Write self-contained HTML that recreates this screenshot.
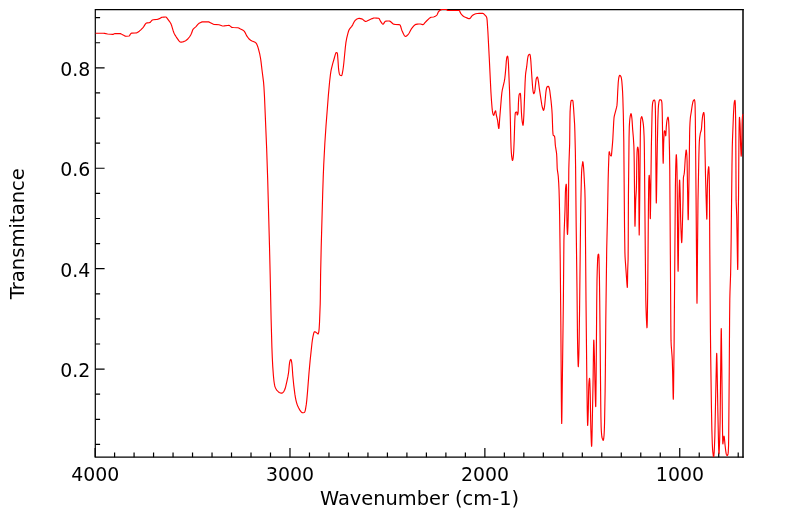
<!DOCTYPE html>
<html><head><meta charset="utf-8"><title>IR Spectrum</title>
<style>html,body{margin:0;padding:0;background:#fff}</style></head>
<body>
<svg width="799" height="516" viewBox="0 0 799 516" style="display:block">
<rect x="0" y="0" width="799" height="516" fill="#fff"/>
<path d="M95.10,457.2v-9.3 M114.59,457.2v-4.8 M134.08,457.2v-4.8 M153.56,457.2v-4.8 M173.05,457.2v-4.8 M192.54,457.2v-4.8 M212.03,457.2v-4.8 M231.52,457.2v-4.8 M251.01,457.2v-4.8 M270.50,457.2v-4.8 M289.98,457.2v-9.3 M309.47,457.2v-4.8 M328.96,457.2v-4.8 M348.45,457.2v-4.8 M367.94,457.2v-4.8 M387.42,457.2v-4.8 M406.91,457.2v-4.8 M426.40,457.2v-4.8 M445.89,457.2v-4.8 M465.38,457.2v-4.8 M484.87,457.2v-9.3 M504.36,457.2v-4.8 M523.84,457.2v-4.8 M543.33,457.2v-4.8 M562.82,457.2v-4.8 M582.31,457.2v-4.8 M601.80,457.2v-4.8 M621.28,457.2v-4.8 M640.77,457.2v-4.8 M660.26,457.2v-4.8 M679.75,457.2v-9.3 M699.24,457.2v-4.8 M718.73,457.2v-4.8 M738.22,457.2v-4.8 M95.3,444.43h4.8 M95.3,419.32h4.8 M95.3,394.22h4.8 M95.3,369.11h9.3 M95.3,344.00h4.8 M95.3,318.90h4.8 M95.3,293.80h4.8 M95.3,268.69h9.3 M95.3,243.59h4.8 M95.3,218.48h4.8 M95.3,193.38h4.8 M95.3,168.27h9.3 M95.3,143.17h4.8 M95.3,118.06h4.8 M95.3,92.95h4.8 M95.3,67.85h9.3 M95.3,42.74h4.8 M95.3,17.64h4.8" stroke="#000" stroke-width="1.2" fill="none"/>
<path d="M743.7,9.6H95.3V457.2H743.7" fill="none" stroke="#000" stroke-width="1.2"/>
<path d="M743.0,9.0V457.8" fill="none" stroke="#000" stroke-width="1.5"/>
<clipPath id="c"><rect x="95.3" y="8.9" width="648.50" height="448.30"/></clipPath>
<path d="M95.40,33.20 103.39,33.21 104.54,33.35 107.61,33.95 110.72,34.28 112.63,34.40 113.34,34.34 114.33,33.81 114.66,33.66 115.00,33.60 120.00,33.60 120.34,33.63 121.02,33.87 122.66,34.84 124.65,35.84 125.32,36.10 125.66,36.17 126.37,36.20 129.00,36.00 129.28,35.89 129.53,35.66 130.64,33.82 131.13,33.30 131.72,33.17 135.24,33.05 136.35,32.94 137.39,32.50 139.31,31.18 140.81,29.90 143.00,27.60 143.73,26.62 145.29,24.11 145.77,23.54 146.31,23.13 146.60,23.00 147.28,22.84 149.29,22.57 150.00,22.40 150.30,22.24 150.57,22.00 151.83,20.38 152.11,20.15 152.40,20.00 153.40,19.77 156.88,19.39 158.35,19.10 159.37,18.63 161.03,17.66 162.05,17.26 163.86,17.07 165.60,17.00 165.91,17.05 166.20,17.20 166.48,17.43 167.02,18.04 169.42,21.29 170.66,23.31 171.16,24.35 171.71,25.81 173.06,30.41 173.70,32.28 174.33,33.70 175.26,35.41 176.32,37.06 178.97,40.84 179.80,41.70 180.39,42.07 180.69,42.17 181.32,42.18 182.40,41.98 183.56,41.60 185.00,41.00 185.64,40.66 186.56,40.02 188.00,38.72 189.46,37.00 190.70,35.00 191.55,33.26 192.67,30.03 193.20,29.11 193.95,28.33 196.00,26.60 197.85,24.42 198.69,23.61 199.65,23.00 200.72,22.42 201.47,22.10 202.24,21.88 203.00,21.80 208.00,21.80 208.68,21.90 209.35,22.16 212.98,24.06 214.00,24.40 219.00,24.80 219.73,24.97 221.90,25.81 222.63,25.98 224.13,25.94 227.58,25.49 229.00,25.40 229.32,25.45 229.62,25.59 231.38,27.13 232.00,27.40 233.43,27.53 237.27,27.72 238.00,27.80 238.73,28.02 240.50,29.00 242.68,30.00 243.32,30.39 243.86,30.84 244.34,31.39 244.97,32.35 246.65,35.64 247.27,36.68 248.67,38.49 249.72,39.57 250.63,40.24 252.00,41.00 254.52,42.08 255.49,42.59 256.00,43.00 256.59,43.85 257.08,44.91 257.76,46.69 258.62,49.55 259.83,54.48 260.62,58.77 261.05,61.86 262.00,70.00 263.52,81.84 263.94,86.97 264.45,95.67 266.63,148.07 267.71,180.13 269.47,245.10 270.17,274.51 271.12,319.18 271.89,347.13 272.30,357.75 272.74,366.36 273.42,375.79 273.94,381.00 274.47,384.48 274.79,385.97 275.02,386.74 275.49,387.90 276.07,389.03 276.73,390.07 277.45,390.95 278.26,391.69 279.31,392.41 280.44,392.97 281.16,393.17 281.80,393.16 282.43,392.86 283.05,392.36 283.59,391.77 284.00,391.20 284.49,390.29 285.16,388.54 285.69,386.62 286.95,381.18 287.84,376.91 288.50,373.00 288.78,370.65 289.27,365.13 289.65,362.45 289.89,361.32 290.35,360.06 290.67,359.49 290.80,359.40 290.92,359.47 291.16,359.95 291.39,360.74 291.67,362.16 291.90,363.77 292.24,367.29 292.77,375.21 293.73,385.06 294.88,394.15 295.39,397.31 295.93,400.03 296.48,402.31 297.06,404.21 297.76,406.07 298.56,407.82 299.73,409.86 300.76,411.36 301.64,412.27 302.26,412.66 302.58,412.76 302.90,412.80 303.28,412.75 304.12,412.47 304.40,412.30 304.58,412.10 304.89,411.55 305.15,410.84 305.45,409.59 306.26,404.66 306.76,400.33 307.54,391.61 309.03,372.49 310.12,360.64 311.99,343.01 312.46,339.53 312.92,336.88 313.71,333.26 314.15,332.15 314.50,331.75 314.70,331.70 314.92,331.75 315.52,332.06 316.50,332.70 317.79,333.90 318.00,334.00 318.15,333.93 318.42,333.42 318.74,332.09 318.95,330.62 319.18,328.24 319.53,322.29 320.21,303.97 320.33,297.65 320.59,275.29 321.21,246.85 322.69,193.57 323.23,177.06 323.70,165.23 324.86,142.98 326.00,126.03 328.35,95.48 329.60,81.73 330.46,74.32 330.86,71.62 331.22,69.70 332.70,63.63 334.20,58.50 335.18,54.85 335.83,52.95 336.00,52.70 336.20,52.60 336.95,52.82 337.20,53.00 337.37,53.49 337.49,54.17 337.96,59.94 338.50,68.08 338.86,71.26 339.25,73.44 339.60,74.50 339.90,75.00 340.12,75.17 340.82,75.47 341.40,75.60 341.57,75.54 341.87,75.13 342.11,74.42 342.39,73.06 342.98,69.74 343.36,66.98 343.85,62.72 345.32,47.51 345.94,42.39 346.66,38.48 347.96,33.17 348.60,31.01 349.00,30.00 349.35,29.35 350.02,28.42 351.54,26.62 352.21,25.67 352.80,24.61 354.06,22.04 354.66,21.05 355.35,20.23 356.48,19.35 357.54,18.76 358.64,18.43 359.37,18.41 360.51,18.59 361.65,18.89 362.35,19.15 363.02,19.61 364.61,21.03 365.26,21.35 365.60,21.40 366.31,21.31 367.03,21.06 369.63,19.75 372.18,18.59 373.28,18.17 374.02,18.02 374.76,18.00 376.72,18.06 378.40,18.20 378.67,18.28 378.91,18.45 379.36,18.98 380.77,21.68 381.98,23.39 382.50,23.96 382.75,24.14 383.00,24.20 383.26,24.12 383.51,23.90 384.74,21.91 385.30,21.32 385.60,21.20 385.92,21.16 387.85,21.02 389.00,21.00 389.71,21.14 390.05,21.30 390.70,21.76 392.63,23.51 393.30,23.95 393.64,24.11 395.14,24.33 399.10,24.60 399.60,24.70 400.00,24.97 400.34,25.50 400.63,26.22 401.53,29.39 401.83,30.23 403.62,34.26 404.23,35.34 404.66,35.90 405.12,36.27 405.60,36.40 406.16,36.22 406.80,35.76 408.24,34.33 408.70,33.73 409.30,32.76 410.75,29.94 411.55,28.60 413.56,26.12 414.73,25.01 415.35,24.62 416.00,24.40 417.38,24.18 418.88,24.04 420.38,24.03 422.67,24.57 423.00,24.60 423.28,24.54 423.80,24.14 424.75,22.88 426.54,21.01 428.99,18.67 429.86,17.93 430.46,17.55 431.10,17.30 433.43,16.98 434.16,16.79 435.26,16.29 436.26,15.60 436.80,15.10 437.22,14.50 438.19,12.24 438.38,11.90 438.85,11.31 439.44,10.76 440.11,10.27 440.80,9.90 441.80,9.51 442.50,9.40 446.00,9.40 446.31,9.48 447.49,10.42 447.80,10.50 459.20,10.50 459.39,10.58 459.57,10.78 460.32,12.67 460.72,13.33 461.69,14.63 462.80,15.76 463.72,16.42 464.76,16.97 467.97,18.38 468.99,18.68 469.61,18.65 470.17,18.26 470.69,17.63 471.72,16.16 472.30,15.60 473.97,14.51 475.06,14.01 475.80,13.80 477.33,13.55 479.30,13.40 482.80,13.40 483.13,13.46 483.76,13.86 485.68,15.83 486.18,16.47 486.57,17.13 486.86,18.15 487.14,20.38 487.88,31.54 489.28,58.28 490.89,91.57 491.51,100.96 492.07,107.98 492.36,110.68 492.66,112.56 492.90,113.69 493.38,114.93 493.55,115.20 493.70,115.30 493.83,115.22 493.96,114.99 494.56,112.88 495.21,111.23 495.50,110.80 495.60,110.87 495.69,111.05 495.84,111.71 496.30,115.00 497.25,118.84 497.57,120.40 498.46,127.05 498.61,127.99 498.76,128.47 498.84,128.47 498.97,128.05 499.15,126.48 499.67,118.71 501.42,97.16 501.90,92.47 502.26,90.22 504.19,81.93 504.70,79.20 505.27,74.15 505.90,67.13 506.30,61.24 506.67,58.22 506.93,57.11 507.35,56.34 507.50,56.20 507.60,56.27 507.70,56.47 507.87,57.17 508.16,59.58 508.45,63.89 509.49,89.60 510.27,116.55 510.77,138.83 511.05,147.18 511.34,152.36 511.70,156.70 512.14,159.53 512.33,160.23 512.50,160.50 512.67,160.23 512.86,159.53 513.19,157.59 513.48,154.73 513.75,150.77 514.24,138.83 514.76,121.38 515.13,114.41 515.28,113.30 515.50,112.50 515.71,112.33 516.46,112.05 516.70,112.00 516.82,112.13 516.98,112.95 517.14,114.53 517.21,114.87 517.30,115.00 517.60,114.57 517.92,113.70 518.04,112.93 518.19,110.67 518.42,103.25 518.70,98.39 518.95,95.96 519.30,94.20 519.47,93.92 519.75,93.62 520.20,93.30 520.36,93.52 520.54,94.49 520.91,100.25 521.40,111.93 521.81,118.09 522.17,121.33 522.64,124.19 522.88,125.10 523.00,125.30 523.11,125.10 523.21,124.56 523.51,121.33 523.86,115.31 525.07,82.89 525.50,75.00 525.76,72.62 526.70,66.70 527.54,59.00 527.96,56.73 528.17,55.94 528.45,55.23 528.80,54.70 529.08,54.52 529.70,54.30 529.85,54.37 530.09,54.89 530.34,56.19 530.63,58.64 530.87,61.33 531.92,77.76 532.60,87.26 533.00,90.80 533.44,93.04 533.68,93.62 533.80,93.70 533.94,93.60 534.28,92.96 534.70,91.70 535.06,89.38 535.86,81.38 536.14,79.44 536.30,78.70 536.65,77.84 537.12,77.12 537.30,77.00 537.44,77.09 537.58,77.33 537.82,78.12 538.47,81.56 539.46,89.46 541.73,104.44 542.11,106.33 542.54,108.02 542.96,109.39 543.25,110.04 543.50,110.30 543.61,110.23 543.85,109.75 544.18,108.49 544.50,106.70 544.82,104.05 545.83,92.75 546.14,90.39 546.50,88.36 546.85,87.27 547.00,87.00 547.25,86.76 548.00,86.37 548.30,86.30 548.52,86.40 548.72,86.66 549.06,87.47 549.30,88.30 549.76,90.61 551.01,100.53 551.52,105.64 551.91,110.32 552.18,114.61 552.74,130.56 552.96,133.62 553.13,134.71 553.30,135.30 553.53,135.54 554.29,135.96 554.50,136.20 554.70,137.10 554.91,138.89 555.30,145.00 555.56,146.93 556.37,151.92 556.61,153.84 556.82,157.34 557.20,168.30 557.39,170.21 558.03,174.41 558.27,176.32 558.69,182.66 559.03,189.82 559.32,199.79 559.61,213.76 560.23,260.46 560.84,324.27 561.38,401.92 561.55,418.11 561.70,423.50 561.82,420.24 561.97,410.81 563.38,300.24 563.91,240.91 564.14,232.19 564.98,210.79 565.37,193.13 565.59,188.65 565.85,186.13 566.07,184.62 566.20,184.20 566.30,184.52 566.51,187.12 566.68,191.15 566.76,195.97 566.91,217.85 567.02,225.85 567.36,233.46 567.50,234.50 567.61,233.76 567.96,226.32 568.27,214.29 568.53,198.03 568.81,169.20 568.97,163.22 569.66,143.69 569.92,119.78 570.09,111.87 570.44,106.00 570.75,102.88 570.97,101.42 571.19,100.63 571.33,100.39 571.50,100.30 572.50,100.30 572.63,100.36 572.74,100.54 572.91,101.17 573.04,102.06 573.51,107.30 574.63,124.43 574.86,131.15 575.36,152.10 575.59,166.73 576.19,227.08 576.98,288.01 577.50,337.94 577.77,353.81 578.13,364.91 578.25,366.48 578.30,366.70 578.34,366.59 578.56,362.93 578.87,353.64 579.11,342.21 579.58,309.01 580.58,219.76 580.90,199.46 581.35,179.75 581.57,172.73 581.82,168.50 582.68,161.97 582.80,161.70 582.86,161.77 583.06,162.67 583.51,166.66 583.88,172.08 584.83,189.83 585.07,198.59 585.29,216.55 586.00,300.40 586.84,379.91 587.23,409.22 587.48,421.78 587.59,424.59 587.71,425.48 587.99,419.94 588.34,408.41 588.61,391.74 588.82,384.58 589.00,382.09 589.30,379.29 589.47,378.34 589.53,378.32 589.60,378.61 589.77,380.45 589.91,383.44 590.24,394.89 590.67,420.74 590.90,430.26 591.31,442.13 591.47,445.14 591.60,446.30 591.71,445.63 591.82,443.47 592.05,434.88 593.13,378.36 593.54,346.76 593.74,340.27 593.80,340.00 593.84,340.24 593.96,342.27 594.35,354.45 594.60,364.36 594.96,383.41 595.41,400.24 595.64,406.21 595.72,406.65 595.78,405.60 595.92,397.91 596.14,376.03 596.72,303.01 597.01,279.22 597.21,271.44 597.67,258.37 598.00,255.00 598.14,254.67 598.50,254.20 598.64,254.41 598.79,255.27 598.99,258.40 599.45,278.55 599.73,301.48 600.75,404.70 600.92,416.64 601.14,426.56 601.33,430.87 601.60,434.36 601.90,437.00 602.25,438.36 602.95,440.01 603.20,440.30 603.36,440.15 603.50,439.72 603.70,438.69 604.06,435.30 604.32,430.24 604.55,423.10 605.12,390.97 605.36,371.11 605.81,319.29 606.71,249.20 607.48,216.19 608.16,179.56 608.45,168.84 608.91,155.45 609.08,152.64 609.18,151.95 609.30,151.70 610.14,154.63 610.30,155.00 610.73,155.64 611.10,156.00 611.19,155.95 611.35,155.62 611.52,154.63 612.41,144.59 612.80,139.55 613.72,121.80 614.00,118.00 614.15,116.91 614.46,115.46 616.51,107.72 616.96,105.39 617.29,101.08 617.71,91.58 618.24,82.53 618.70,78.30 618.98,76.90 619.28,75.98 619.62,75.39 619.80,75.30 620.02,75.40 620.59,75.98 621.00,76.70 621.29,77.74 621.51,78.88 621.82,81.29 622.28,86.84 622.57,91.57 622.83,97.48 623.33,114.76 623.80,142.07 624.54,227.79 624.91,252.40 625.07,256.78 625.36,261.56 626.99,284.38 627.29,287.48 627.38,286.89 627.45,284.90 627.70,270.00 628.10,259.20 628.23,242.91 628.43,196.04 629.04,138.28 629.30,126.86 629.51,122.94 629.83,119.04 630.23,116.11 630.56,114.67 630.90,113.77 631.00,113.70 631.18,113.97 631.37,114.67 631.62,116.12 631.89,118.27 632.13,121.00 632.67,129.61 633.37,137.62 633.83,145.35 634.01,150.40 634.22,161.86 634.80,218.30 634.89,223.97 634.99,226.27 635.12,223.58 635.68,200.40 636.28,190.71 636.42,187.21 636.57,179.65 636.78,161.73 637.02,152.58 637.28,149.07 637.45,147.83 637.64,147.15 637.70,147.10 637.78,147.18 637.99,147.76 638.37,149.60 638.53,155.47 638.65,164.15 639.05,225.84 639.20,234.90 639.38,226.49 639.74,196.44 640.31,136.31 640.56,123.39 640.69,120.70 640.86,118.79 641.25,117.42 641.56,116.79 641.70,116.70 641.82,116.79 642.08,117.42 642.50,119.20 643.06,122.33 643.43,125.11 643.72,128.70 644.06,135.84 644.25,142.21 644.38,150.58 645.56,281.35 645.80,300.00 646.01,307.99 646.38,317.87 646.75,325.23 646.89,327.12 647.00,327.80 647.15,325.80 647.31,319.78 647.71,291.27 648.44,206.35 648.74,182.35 648.87,178.60 649.17,175.36 649.20,175.30 649.26,175.41 649.36,176.24 649.59,180.07 649.90,190.89 650.21,216.71 650.27,218.55 650.31,218.66 650.35,218.18 650.58,206.42 651.37,146.05 652.07,112.95 652.28,107.09 652.49,104.17 652.80,102.13 653.20,100.80 653.40,100.54 653.73,100.28 654.30,100.00 654.46,100.08 654.61,100.29 654.86,101.01 655.06,101.95 655.20,103.30 655.37,109.20 655.48,115.97 656.10,191.25 656.21,200.23 656.30,202.90 656.41,200.55 656.57,192.80 657.31,145.61 657.86,119.94 658.26,108.80 658.48,105.58 658.75,103.22 659.00,101.70 659.21,100.87 659.56,100.06 659.77,99.80 660.00,99.70 660.99,99.89 661.20,100.00 661.33,100.18 661.56,100.75 661.73,101.54 661.95,103.36 662.24,112.10 662.90,154.07 663.06,160.76 663.19,163.19 663.30,161.05 663.65,143.43 663.87,138.35 664.27,131.53 664.37,131.00 664.50,130.80 665.00,131.32 665.20,131.70 665.41,132.96 665.64,135.54 665.70,135.80 665.77,135.67 665.93,133.98 666.27,127.11 666.62,123.11 666.92,120.74 667.30,118.81 667.59,117.94 667.89,117.30 668.00,117.20 668.17,117.43 668.38,118.43 668.70,121.70 669.00,128.84 669.50,151.84 669.76,168.44 670.85,326.15 671.01,340.40 671.24,345.55 672.05,355.84 672.30,360.20 672.61,370.96 673.11,395.00 673.21,398.17 673.30,399.10 673.43,396.61 673.56,389.42 674.13,341.52 675.39,186.79 675.73,167.38 675.99,159.06 676.21,155.15 676.30,154.70 676.40,155.28 676.73,160.21 677.03,172.23 677.27,193.15 677.66,245.37 677.92,265.24 678.02,269.97 678.11,271.29 678.25,267.12 678.41,255.73 678.99,200.40 679.27,186.77 679.53,180.37 679.59,180.02 679.64,180.18 679.77,182.15 680.14,192.80 680.35,201.32 680.66,219.48 680.92,228.59 681.39,239.34 681.59,242.02 681.66,242.53 681.70,242.60 681.73,242.53 681.87,241.06 682.04,237.19 682.74,213.10 683.03,200.43 683.23,184.26 683.40,178.00 683.53,176.84 684.11,174.16 684.30,173.00 684.63,169.07 685.18,159.58 685.62,154.23 686.03,150.52 686.20,150.00 686.33,150.30 686.60,152.31 686.85,155.25 687.10,161.15 687.92,211.15 688.08,217.88 688.15,219.48 688.22,219.76 688.32,217.65 688.44,212.61 689.12,171.84 689.62,133.95 689.75,128.05 689.98,122.97 690.27,118.69 690.47,116.74 691.30,111.70 692.09,106.18 692.74,102.62 693.04,101.48 693.30,100.80 693.81,100.10 694.30,99.70 694.41,99.77 694.62,100.25 694.85,101.51 695.00,103.30 695.12,107.25 695.34,119.60 696.06,197.15 696.81,291.57 696.91,300.33 697.00,303.20 697.16,294.39 697.48,252.48 697.99,200.40 698.88,155.39 699.14,145.93 699.34,141.21 699.66,137.62 700.30,133.30 700.49,132.56 701.13,130.74 701.35,129.61 701.59,127.26 701.96,122.09 702.54,116.55 702.89,114.59 703.33,113.22 703.60,112.59 703.70,112.50 703.78,112.55 703.92,112.95 704.10,114.09 704.29,116.11 704.51,121.52 704.79,139.61 705.51,176.04 706.59,214.55 706.76,218.95 706.81,219.19 706.86,218.70 706.94,215.84 707.30,190.00 707.54,181.38 707.81,175.12 708.12,170.67 708.47,167.81 708.70,166.70 708.83,167.23 708.95,168.66 709.18,174.23 709.34,183.18 709.52,199.88 709.78,247.61 710.40,329.60 710.71,356.98 711.38,404.58 711.86,429.55 712.28,443.33 712.53,448.43 712.75,451.40 713.23,455.29 713.46,456.57 713.60,456.90 713.75,456.56 713.89,455.62 714.19,451.97 714.51,445.31 714.82,436.74 716.46,359.35 716.59,354.81 716.70,353.40 716.84,355.63 717.01,362.62 717.89,413.11 718.51,442.93 718.69,449.12 718.87,452.75 718.95,453.46 718.99,453.59 719.03,453.55 719.21,451.56 719.71,438.42 720.09,421.64 721.01,339.67 721.13,331.43 721.25,328.60 721.36,330.96 721.47,338.02 722.57,433.96 722.76,442.77 722.84,443.71 722.88,443.89 722.92,443.84 723.70,437.40 723.89,436.42 723.95,436.26 724.00,436.20 724.05,436.23 724.24,436.88 724.43,438.20 725.06,445.02 725.63,450.11 726.07,453.09 726.29,454.16 726.50,454.80 726.95,455.46 727.20,455.60 727.41,455.48 727.61,455.20 727.90,454.50 728.10,453.44 728.28,451.92 728.55,445.77 728.70,436.03 729.24,372.83 729.57,321.49 729.81,299.21 729.99,291.71 730.61,273.95 730.85,261.25 731.15,239.77 731.98,165.85 732.27,147.59 732.51,138.91 733.46,114.77 733.93,106.01 734.14,103.64 734.40,101.70 734.80,100.45 734.90,100.30 734.95,100.34 735.05,100.66 735.23,102.47 735.39,106.30 735.59,116.60 735.72,129.29 736.10,200.39 736.74,216.58 737.48,261.76 737.61,267.57 737.70,269.50 737.80,266.98 737.91,259.31 738.25,215.00 738.55,195.21 738.92,141.78 739.11,127.79 739.29,120.19 739.42,117.71 739.48,117.32 739.54,117.45 739.80,120.19 740.06,124.16 740.24,129.31 740.61,145.40 740.97,153.67 741.10,155.69 741.22,156.28 741.37,154.60 741.52,150.43 741.88,137.24 742.10,124.92 742.27,119.83 742.55,115.66 743.20,114.00" fill="none" stroke="#ff0000" stroke-width="1.15" stroke-linejoin="round" clip-path="url(#c)"/>
<text x="95.2" y="481" text-anchor="middle" style="font-family:'DejaVu Sans','Liberation Sans',sans-serif;font-size:18.9px;fill:#000">4000</text>
<text x="290.1" y="481" text-anchor="middle" style="font-family:'DejaVu Sans','Liberation Sans',sans-serif;font-size:18.9px;fill:#000">3000</text>
<text x="485.0" y="481" text-anchor="middle" style="font-family:'DejaVu Sans','Liberation Sans',sans-serif;font-size:18.9px;fill:#000">2000</text>
<text x="679.9" y="481" text-anchor="middle" style="font-family:'DejaVu Sans','Liberation Sans',sans-serif;font-size:18.9px;fill:#000">1000</text>
<text x="90.2" y="75.6" text-anchor="end" style="font-family:'DejaVu Sans','Liberation Sans',sans-serif;font-size:18.9px;fill:#000">0.8</text>
<text x="90.2" y="176.1" text-anchor="end" style="font-family:'DejaVu Sans','Liberation Sans',sans-serif;font-size:18.9px;fill:#000">0.6</text>
<text x="90.2" y="276.5" text-anchor="end" style="font-family:'DejaVu Sans','Liberation Sans',sans-serif;font-size:18.9px;fill:#000">0.4</text>
<text x="90.2" y="376.9" text-anchor="end" style="font-family:'DejaVu Sans','Liberation Sans',sans-serif;font-size:18.9px;fill:#000">0.2</text>
<text x="419.5" y="504.5" text-anchor="middle" style="font-family:'DejaVu Sans','Liberation Sans',sans-serif;font-size:19.4px;fill:#000">Wavenumber (cm-1)</text>
<text transform="translate(23.8,233.7) rotate(-90)" text-anchor="middle" style="font-family:'DejaVu Sans','Liberation Sans',sans-serif;font-size:19.6px;fill:#000">Transmitance</text>
</svg>
</body></html>
